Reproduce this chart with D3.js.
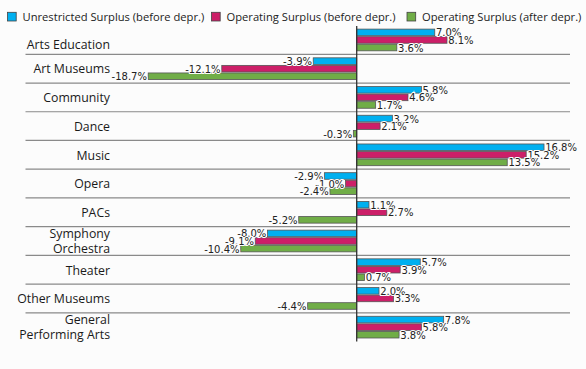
<!DOCTYPE html>
<html><head><meta charset="utf-8">
<script src="https://cdn.jsdelivr.net/npm/d3@7"></script>
<style>body{margin:0;background:#fcfcfc}svg{display:block}</style>
</head><body>
<svg id="c" width="586" height="369"></svg>
<script>
const categories = ["Arts Education","Art Museums","Community","Dance","Music","Opera","PACs","Symphony Orchestra","Theater","Other Museums","General Performing Arts"];
const categoryLines = [["Arts Education"],["Art Museums"],["Community"],["Dance"],["Music"],["Opera"],["PACs"],["Symphony","Orchestra"],["Theater"],["Other Museums"],["General","Performing Arts"]];
const seriesNames = ["Unrestricted Surplus (before depr.)","Operating Surplus (before depr.)","Operating Surplus (after depr.)"];
const seriesColors = ["#00b0f0","#cc1f68","#70ad47"];
const unrestrictedBefore = [7.0,-3.9,5.8,3.2,16.8,-2.9,1.1,-8.0,5.7,2.0,7.8];
const operatingBefore = [8.1,-12.1,4.6,2.1,15.2,-1.0,2.7,-9.1,3.9,3.3,5.8];
const operatingAfter = [3.6,-18.7,1.7,-0.3,13.5,-2.4,-5.2,-10.4,0.7,-4.4,3.8];
const series = [unrestrictedBefore, operatingBefore, operatingAfter];

const svg = d3.select("#c");
const font = "'Open Sans', sans-serif";
const x = d3.scaleLinear().domain([0, 1]).range([356.7, 367.85]);
const y = d3.scaleBand().domain(categories).range([25.6, 341.5]).paddingInner(0).paddingOuter(0);
const sub = d3.scaleBand().domain([0,1,2]).range([3.5, y.bandwidth()-3.5]).paddingInner(0.13);

// separators
const sepCats = categories.slice(1);
svg.append("g").selectAll("line").data(sepCats).join("line")
  .attr("x1", 25.5).attr("x2", 570).attr("y1", d => y(d)).attr("y2", d => y(d))
  .attr("stroke", "#8a8a8a").attr("stroke-width", 1.2);

// category labels (first one nudged down, clear of the legend)
const cl = svg.append("g").attr("font-family", font).attr("font-size", 12.3).attr("fill", "#1a1a1a").attr("text-anchor","end");
categoryLines.forEach((lines, i) => {
  const cy = y(categories[i]) + y.bandwidth()/2 + (i === 0 ? 4.5 : 0.5);
  const lh = 15;
  lines.forEach((t, j) => {
    cl.append("text").attr("x", 110).attr("y", cy + (j - (lines.length-1)/2)*lh + 4.3).text(t);
  });
});

// bars
series.forEach((vals, s) => {
  const g = svg.append("g");
  g.selectAll("rect").data(vals).join("rect")
    .attr("x", d => Math.min(x(0), x(d)))
    .attr("width", d => Math.abs(x(d) - x(0)))
    .attr("y", (d, i) => y(categories[i]) + sub(s))
    .attr("height", sub.bandwidth())
    .attr("fill", seriesColors[s]).attr("stroke", "#555").attr("stroke-width", 0.8);
});
// labels
series.forEach((vals, s) => {
  const g = svg.append("g").attr("font-family", "'DejaVu Sans', sans-serif").attr("font-size", 10).attr("fill", "#222");
  g.selectAll("text").data(vals).join("text")
    .attr("x", d => d >= 0 ? x(d) + 1.2 : x(d) - 1.2)
    .attr("text-anchor", d => d >= 0 ? "start" : "end")
    .attr("y", (d, i) => y(categories[i]) + sub(s) + sub.bandwidth()/2 + 4)
    .attr("stroke", "#fcfcfc").attr("stroke-width", 2).attr("paint-order", "stroke")
    .text(d => d.toFixed(1) + "%");
});

// zero line
svg.append("line").attr("x1", x(0)).attr("x2", x(0)).attr("y1", 26).attr("y2", 341.5)
  .attr("stroke", "#333").attr("stroke-width", 1.3);

// legend
const lg = svg.append("g").attr("font-family", font).attr("font-size", 11.2).attr("fill", "#222");
const legX = [7.5, 211.5, 407];
seriesNames.forEach((n, i) => {
  lg.append("rect").attr("x", legX[i]).attr("y", 12.3).attr("width", 8.7).attr("height", 8.7)
    .attr("fill", seriesColors[i]).attr("stroke", "#444").attr("stroke-width", 0.8);
  lg.append("text").attr("x", legX[i] + 15).attr("y", 20.8).text(n);
});
</script>
</body></html>
